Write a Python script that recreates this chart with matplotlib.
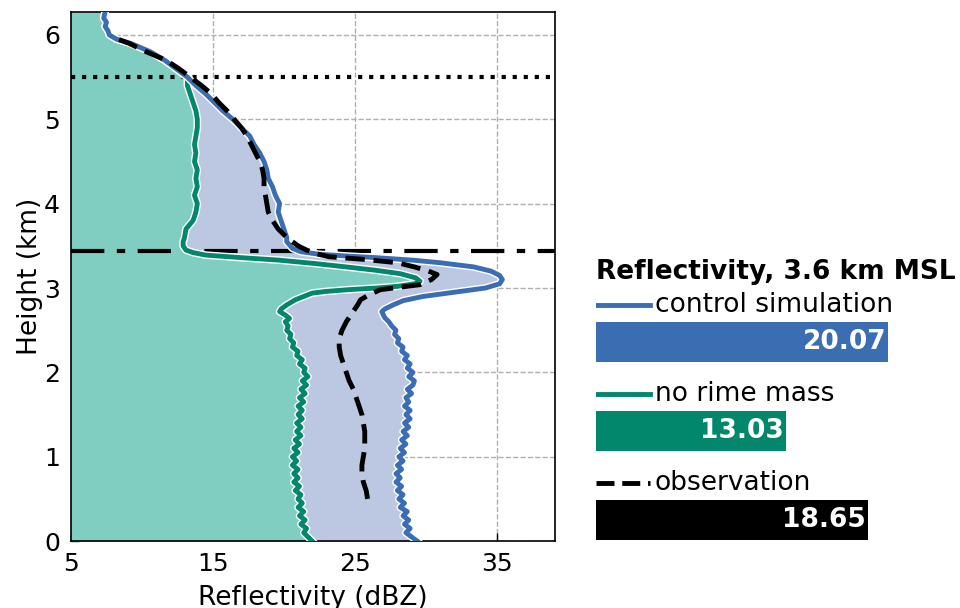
import numpy as np
import matplotlib.pyplot as plt
import matplotlib.patheffects as pe

# control simulation profile (height km, reflectivity dBZ)
ctrl_z = [0.00, 0.05, 0.10, 0.15, 0.20, 0.25, 0.30, 0.35, 0.40, 0.45,
          0.50, 0.55, 0.60, 0.65, 0.70, 0.75, 0.80, 0.85, 0.90, 0.95,
          1.00, 1.05, 1.10, 1.15, 1.20, 1.25, 1.30, 1.35, 1.40, 1.45,
          1.50, 1.55, 1.60, 1.65, 1.70, 1.75, 1.80, 1.85, 1.90, 1.95,
          2.00, 2.05, 2.10, 2.15, 2.20, 2.25, 2.30, 2.35, 2.40, 2.45,
          2.50, 2.55, 2.60, 2.65, 2.72, 2.75, 2.80, 2.85, 2.90, 2.95,
          3.00, 3.05, 3.10, 3.15, 3.20, 3.25, 3.30, 3.33, 3.36, 3.38,
          3.40, 3.43, 3.47, 3.55, 3.60, 3.70, 3.80, 3.90, 4.00, 4.10,
          4.20, 4.30, 4.40, 4.50, 4.60, 4.70, 4.80, 4.90, 5.00, 5.10,
          5.20, 5.30, 5.40, 5.50, 5.60, 5.70, 5.80, 5.90, 5.95, 6.00,
          6.05, 6.10, 6.15, 6.20, 6.27]
ctrl_dbz = [29.4, 29.0, 28.6, 28.9, 28.5, 28.8, 28.4, 28.7, 28.2, 28.5,
            28.1, 28.4, 28.0, 28.3, 27.9, 28.2, 27.9, 28.3, 28.0, 28.4,
            28.1, 28.5, 28.2, 28.6, 28.3, 28.7, 28.4, 28.8, 28.5, 28.9,
            28.6, 28.9, 28.5, 28.8, 28.6, 29.0, 28.7, 29.1, 29.2, 28.8,
            29.1, 28.7, 28.9, 28.5, 28.7, 28.3, 28.4, 28.0, 28.1, 27.8,
            27.9, 27.6, 27.4, 27.1, 26.9, 27.1, 27.7, 28.4, 29.8, 32.0,
            34.2, 35.2, 35.4, 35.2, 34.6, 33.4, 31.0, 29.1, 26.5, 24.4,
            22.5, 21.2, 20.6, 20.2, 20.2, 20.0, 19.8, 19.6, 19.7, 19.4,
            19.2, 18.9, 18.8, 18.6, 18.3, 17.9, 17.6, 17.0, 16.4, 15.7,
            15.1, 14.5, 13.8, 13.2, 12.4, 11.6, 10.6, 9.2, 8.2, 7.7,
            7.6, 7.4, 7.5, 7.3, 7.4]

# no rime mass simulation profile
norime_z = [0.00, 0.05, 0.10, 0.15, 0.20, 0.25, 0.30, 0.35, 0.40, 0.45,
            0.50, 0.55, 0.60, 0.65, 0.70, 0.75, 0.80, 0.85, 0.90, 0.95,
            1.00, 1.05, 1.10, 1.15, 1.20, 1.25, 1.30, 1.35, 1.40, 1.45,
            1.50, 1.55, 1.60, 1.65, 1.70, 1.75, 1.80, 1.85, 1.90, 1.95,
            2.00, 2.05, 2.10, 2.15, 2.20, 2.25, 2.30, 2.35, 2.40, 2.45,
            2.50, 2.55, 2.60, 2.64, 2.68, 2.72, 2.75, 2.80, 2.86, 2.90,
            2.94, 2.96, 2.98, 3.00, 3.02, 3.05, 3.08, 3.12, 3.17, 3.21,
            3.25, 3.29, 3.33, 3.36, 3.39, 3.42, 3.45, 3.50, 3.55, 3.60,
            3.70, 3.80, 3.90, 4.00, 4.10, 4.20, 4.30, 4.40, 4.50, 4.60,
            4.70, 4.80, 4.90, 5.00, 5.10, 5.20, 5.30, 5.40, 5.50, 5.60,
            5.70, 5.80, 5.90, 5.95, 6.00, 6.05, 6.10, 6.15, 6.20, 6.27]
norime_dbz = [22.0, 21.7, 21.4, 21.6, 21.2, 21.5, 21.1, 21.4, 21.0, 21.3,
              21.0, 21.2, 20.8, 21.1, 20.7, 21.0, 20.7, 21.0, 20.6, 20.9,
              20.6, 21.0, 20.7, 21.1, 20.8, 21.2, 20.9, 21.2, 20.9, 21.3,
              21.0, 21.3, 21.0, 21.4, 21.1, 21.5, 21.2, 21.6, 21.3, 21.7,
              21.4, 21.5, 21.1, 21.3, 20.9, 21.0, 20.6, 20.7, 20.4, 20.5,
              20.2, 20.3, 20.1, 20.4, 20.1, 19.7, 19.8, 20.2, 20.8, 21.4,
              22.0, 23.0, 24.5, 26.5, 28.0, 29.2, 29.6, 29.3, 28.2, 26.5,
              24.4, 22.2, 19.7, 17.0, 14.5, 13.6, 13.1, 12.9, 12.9, 13.0,
              13.1, 13.6, 13.8, 13.9, 13.7, 13.9, 13.8, 13.9, 13.7, 13.8,
              13.7, 13.8, 13.9, 13.9, 13.8, 13.6, 13.4, 13.2, 13.2, 12.4,
              11.6, 10.6, 9.2, 8.2, 7.7, 7.6, 7.4, 7.5, 7.3, 7.4]

# observed profile
obs_z = [0.50, 0.60, 0.70, 0.80, 0.90, 1.00, 1.10, 1.20, 1.30, 1.40,
         1.50, 1.60, 1.70, 1.80, 1.90, 2.00, 2.10, 2.20, 2.30, 2.40,
         2.50, 2.60, 2.70, 2.80, 2.86, 2.92, 2.98, 3.04, 3.10, 3.16,
         3.20, 3.25, 3.30, 3.34, 3.37, 3.41, 3.45, 3.50, 3.55, 3.60,
         3.70, 3.80, 3.90, 4.00, 4.10, 4.20, 4.30, 4.40, 4.50, 4.60,
         4.70, 4.80, 4.90, 5.00, 5.10, 5.20, 5.30, 5.40, 5.50, 5.60,
         5.70, 5.80, 5.90, 5.98]
obs_dbz = [25.9, 25.8, 25.6, 25.5, 25.5, 25.6, 25.7, 25.7, 25.7, 25.6,
           25.5, 25.3, 25.1, 24.9, 24.6, 24.4, 24.2, 24.0, 23.9, 23.9,
           24.1, 24.4, 24.8, 25.2, 25.4, 26.0, 26.8, 29.6, 30.4, 30.8,
           30.2, 29.2, 28.0, 25.6, 23.2, 22.2, 21.6, 21.0, 20.6, 20.2,
           19.6, 19.2, 18.9, 18.8, 18.7, 18.6, 18.6, 18.5, 18.3, 18.0,
           17.7, 17.4, 17.0, 16.5, 16.0, 15.4, 14.9, 14.2, 13.4, 12.6,
           11.7, 10.3, 9.1, 7.8]

# mean reflectivity at 3.6 km MSL
bar_labels = ["control simulation", "no rime mass", "observation"]
bar_values = [20.07, 13.03, 18.65]

melt_level = 3.44
top_level = 5.5

BLUE = "#3a6db1"
GREEN = "#02876d"
TEAL_FILL = "#80cec1"
BLUE_FILL = "#bcc8e1"

plt.rcParams["font.family"] = "DejaVu Sans"

fig = plt.figure(figsize=(9.6, 6.08), dpi=100)
ax = fig.add_axes([0.074, 0.110, 0.504, 0.870])

# control profile on the no-rime height grid, for the shaded gap
ctrl_on_norime = np.interp(norime_z, ctrl_z, ctrl_dbz)

ax.fill_betweenx(norime_z, 0, norime_dbz, color=TEAL_FILL, lw=0, zorder=1)
ax.fill_betweenx(norime_z, norime_dbz, ctrl_on_norime, color=BLUE_FILL,
                 lw=0, zorder=1)

ax.grid(True, ls="--", color="#b0b0b0", lw=1.0, zorder=0)
ax.set_axisbelow(True)

ax.axhline(top_level, color="black", ls=":", lw=3, zorder=2)
ax.axhline(melt_level, color="black", lw=3, zorder=2, dashes=(8, 3, 2, 3))

halo = [pe.Stroke(linewidth=5.5, foreground="white"), pe.Normal()]
ax.plot(norime_dbz, norime_z, color=GREEN, lw=3.5, zorder=3,
        path_effects=halo)
ax.plot(ctrl_dbz, ctrl_z, color=BLUE, lw=3.5, zorder=4,
        path_effects=halo)
ax.plot(obs_dbz, obs_z, color="black", lw=3.5, zorder=5, dashes=(4, 1.8))

ax.set_xlim(5, 39.1)
ax.set_ylim(0, 6.27)
ax.set_xticks([5, 15, 25, 35])
ax.set_yticks([0, 1, 2, 3, 4, 5, 6])
ax.tick_params(direction="in", length=6, width=1, labelsize=18, pad=8)
ax.set_xlabel("Reflectivity (dBZ)", fontsize=19, labelpad=6)
ax.set_ylabel("Height (km)", fontsize=19, labelpad=1)
for s in ax.spines.values():
    s.set_linewidth(1.2)

# bar panel with inline legend
bx = fig.add_axes([0.6208, 0.1036, 0.3792, 0.477])
bx.set_xlim(0, 25)
bx.set_ylim(2.28, -0.98)
bx.axis("off")

colors = [BLUE, GREEN, "black"]
line_styles = ["-", "-", "--"]
rows = np.arange(len(bar_values))
bx.barh(rows, bar_values, height=0.45, color=colors, align="center")
for r, lab, val, c, lsty in zip(rows, bar_labels, bar_values, colors, line_styles):
    bx.plot([0, 3.7], [r - 0.415, r - 0.415], color=c, lw=3.5, ls=lsty)
    bx.text(4.05, r - 0.415, lab, fontsize=19, va="center", ha="left")
    bx.text(val - 0.15, r, f"{val:.2f}", fontsize=19, fontweight="bold",
            color="white", va="center", ha="right")
bx.text(0, -0.79, "Reflectivity, 3.6 km MSL", fontsize=19, fontweight="bold",
        va="center", ha="left")

fig.savefig("out.png", dpi=100)
